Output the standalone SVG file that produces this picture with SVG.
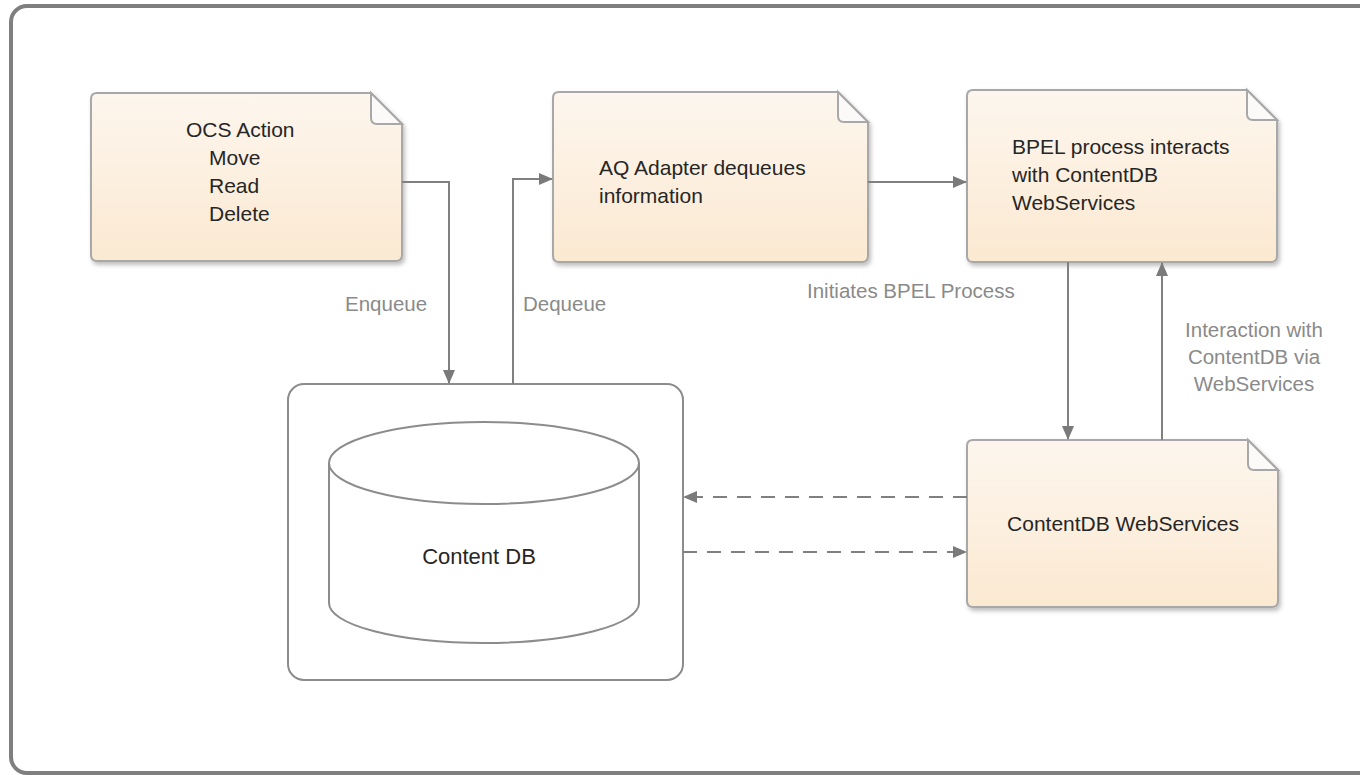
<svg xmlns="http://www.w3.org/2000/svg" width="1360" height="775" viewBox="0 0 1360 775">
<defs>
<linearGradient id="noteFill" x1="0" y1="0" x2="0" y2="1">
<stop offset="0" stop-color="#fdf6ee"/>
<stop offset="1" stop-color="#fbe9d1"/>
</linearGradient>
<filter id="shadow" x="-10%" y="-10%" width="130%" height="130%">
<feDropShadow dx="2" dy="3" stdDeviation="2" flood-color="#000" flood-opacity="0.25"/>
</filter>
<marker id="arrow" viewBox="0 0 14 12" refX="13" refY="6" markerWidth="14" markerHeight="12" markerUnits="userSpaceOnUse" orient="auto">
<path d="M0,0 L14,6 L0,12 Z" fill="#7a7a7a"/>
</marker>
<style>
.note{fill:url(#noteFill);stroke:#a8a8a8;stroke-width:2;filter:url(#shadow)}
.fold{fill:#fbfaf8;stroke:#a8a8a8;stroke-width:2}
.txt{font-family:"Liberation Sans",Arial,sans-serif;font-size:21px;fill:#262626}
.lbl{font-family:"Liberation Sans",Arial,sans-serif;font-size:20.5px;fill:#8a8a8a}
.conn{fill:none;stroke:#808080;stroke-width:2}
.dash{stroke-dasharray:14,10}
</style>
</defs>
<rect width="1360" height="775" fill="#ffffff"/>
<rect id="frame" x="11" y="6" width="1370" height="767" rx="16" ry="16" fill="none" stroke="#7f7f7f" stroke-width="4"/>

<g id="ocs-action">
<path class="note" d="M97,93 H371 L402,124 V255 Q402,261 396,261 H97 Q91,261 91,255 V99 Q91,93 97,93 Z"/>
<path class="fold" d="M371,93 V118 Q371,124 377,124 H402 Z"/>
<text class="txt" x="186" y="137">OCS Action</text>
<text class="txt" x="209" y="165">Move</text>
<text class="txt" x="209" y="193">Read</text>
<text class="txt" x="209" y="221">Delete</text>
</g>

<g id="aq-adapter">
<path class="note" d="M559,92 H838 L868,122 V256 Q868,262 862,262 H559 Q553,262 553,256 V98 Q553,92 559,92 Z"/>
<path class="fold" d="M838,92 V116 Q838,122 844,122 H868 Z"/>
<text class="txt" x="599" y="175">AQ Adapter dequeues</text>
<text class="txt" x="599" y="203">information</text>
</g>

<g id="bpel-process">
<path class="note" d="M973,90 H1247 L1277,120 V256 Q1277,262 1271,262 H973 Q967,262 967,256 V96 Q967,90 973,90 Z"/>
<path class="fold" d="M1247,90 V114 Q1247,120 1253,120 H1277 Z"/>
<text class="txt" x="1012" y="154">BPEL process interacts</text>
<text class="txt" x="1012" y="182">with ContentDB</text>
<text class="txt" x="1012" y="210">WebServices</text>
</g>

<g id="contentdb-webservices">
<path class="note" d="M973,440 H1248 L1278,470 V601 Q1278,607 1272,607 H973 Q967,607 967,601 V446 Q967,440 973,440 Z"/>
<path class="fold" d="M1248,440 V464 Q1248,470 1254,470 H1278 Z"/>
<text class="txt" x="1123" y="531" text-anchor="middle">ContentDB WebServices</text>
</g>

<g id="content-db">
<rect x="288" y="384" width="395" height="296" rx="16" ry="16" fill="#ffffff" stroke="#8c8c8c" stroke-width="2"/>
<path d="M329,463 V603 A155,40 0 0 0 639,603 V463" fill="#ffffff" stroke="#8c8c8c" stroke-width="2"/>
<ellipse cx="484" cy="463" rx="155" ry="41" fill="#ffffff" stroke="#8c8c8c" stroke-width="2"/>
<text class="txt" x="479" y="564" text-anchor="middle" style="font-size:22px">Content DB</text>
</g>

<g id="connectors">
<path class="conn" d="M402,182 H449 V383" marker-end="url(#arrow)"/>
<path class="conn" d="M513,384 V179 H552" marker-end="url(#arrow)"/>
<path class="conn" d="M868,182 H966" marker-end="url(#arrow)"/>
<path class="conn" d="M1068,262 V439" marker-end="url(#arrow)"/>
<path class="conn" d="M1162,440 V263" marker-end="url(#arrow)"/>
<path class="conn dash" d="M967,497 H684" marker-end="url(#arrow)"/>
<path class="conn dash" d="M683,552 H966" marker-end="url(#arrow)"/>
<text class="lbl" x="345" y="311">Enqueue</text>
<text class="lbl" x="523" y="311">Dequeue</text>
<text class="lbl" x="807" y="298">Initiates BPEL Process</text>
<text class="lbl" x="1254" y="337" text-anchor="middle">Interaction with</text>
<text class="lbl" x="1254" y="364" text-anchor="middle">ContentDB via</text>
<text class="lbl" x="1254" y="391" text-anchor="middle">WebServices</text>
</g>
</svg>
